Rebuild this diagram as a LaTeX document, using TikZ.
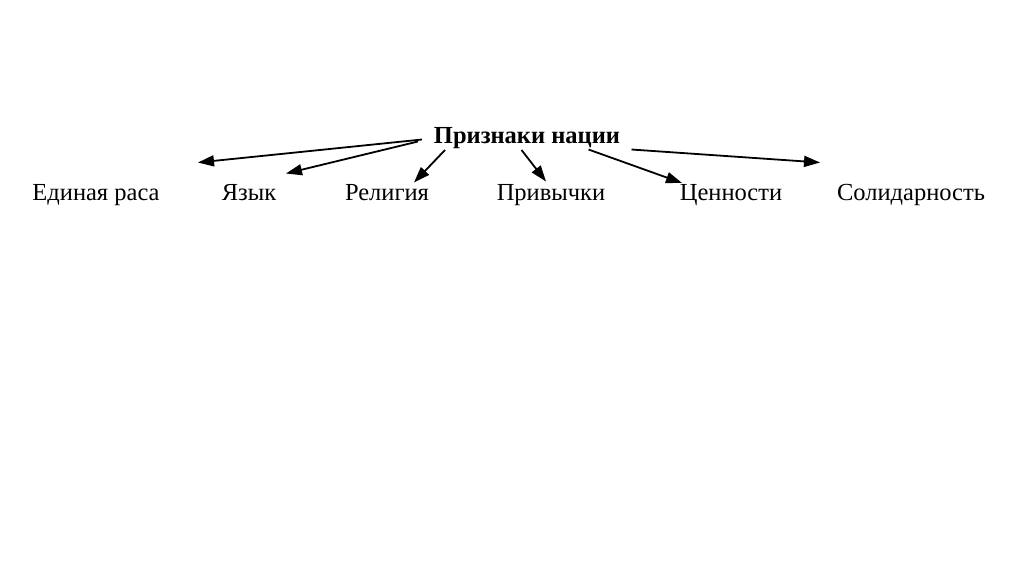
\documentclass[tikz,border=0pt]{standalone}
\usepackage{fontspec}
\setmainfont{Liberation Serif}
\usetikzlibrary{arrows.meta}
\begin{document}
\begin{tikzpicture}[x=1pt,y=-1pt,
  lbl/.style={inner sep=0pt,anchor=base,font=\fontsize{24.5}{28}\selectfont},
  ttl/.style={inner sep=0pt,anchor=base,font=\fontsize{24.5}{28}\selectfont\bfseries},
  arr/.style={line width=1.8pt,-{Triangle[length=16pt,width=11pt]}}]
\useasboundingbox (0,0) rectangle (1024,574);
\node[ttl] (t) at (527,143) {Признаки нации};
\node[lbl] (a) at (96,200) {Единая раса};
\node[lbl] (b) at (249,200) {Язык};
\node[lbl] (c) at (387,200) {Религия};
\node[lbl] (d) at (551,200) {Привычки};
\node[lbl] (e) at (731,200) {Ценности};
\node[lbl] (f) at (911,200) {Солидарность};
\coordinate (s1) at (422,139.5);
\coordinate (s2) at (418,141.5);
\coordinate (s3) at (445,150);
\coordinate (s4) at (521.5,150);
\coordinate (s5) at (588.5,149.5);
\coordinate (s6) at (631.5,149.5);
\coordinate (e1) at (198,162.5);
\coordinate (e2) at (286,173.5);
\coordinate (e3) at (414,182.5);
\coordinate (e4) at (546,181.5);
\coordinate (e5) at (682,183);
\coordinate (e6) at (820,162.5);
\draw[arr] (s1) -- (e1);
\draw[arr] (s2) -- (e2);
\draw[arr] (s3) -- (e3);
\draw[arr] (s4) -- (e4);
\draw[arr] (s5) -- (e5);
\draw[arr] (s6) -- (e6);
\end{tikzpicture}
\end{document}
